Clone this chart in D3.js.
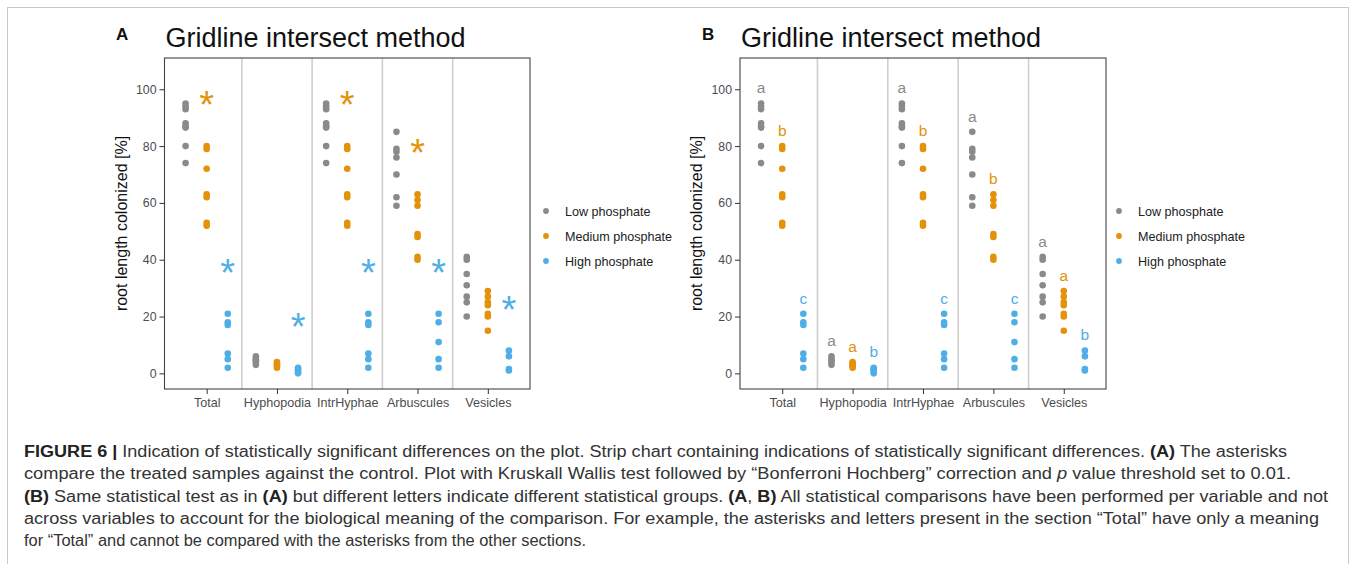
<!DOCTYPE html>
<html>
<head>
<meta charset="utf-8">
<script src="https://cdn.jsdelivr.net/npm/d3@7"></script>
<style>
  html, body { margin: 0; padding: 0; background: #fff; }
  svg { display: block; }
</style>
</head>
<body>
<svg id="chart" width="1355" height="564"></svg>
<script>
// ---------------- DATA ----------------
const categories = ["Total", "Hyphopodia", "IntrHyphae", "Arbuscules", "Vesicles"];
const groups = ["Low phosphate", "Medium phosphate", "High phosphate"];
const yTicks = [0, 20, 40, 60, 80, 100];

// root length colonized [%], one list per category
const lowValues = [
  [95, 94, 93, 88, 87, 86.5, 80, 74],
  [6, 5, 4.5, 4, 3],
  [95, 94, 93, 88, 87, 86.5, 80, 74],
  [85, 79, 78, 76, 70, 62, 59],
  [41, 40, 35, 31, 27, 25, 20]
];
const mediumValues = [
  [80, 79, 72, 63, 62, 53, 52],
  [4, 3.5, 3, 2.5, 2],
  [80, 79, 72, 63, 62, 53, 52],
  [63, 61, 59, 49, 48, 41, 40],
  [29, 27, 25, 24, 21, 20, 15]
];
const highValues = [
  [21, 18, 17, 7, 5, 2],
  [2, 1.5, 1, 0.5, 0],
  [21, 18, 17, 7, 5, 2],
  [21, 18, 11, 5, 2],
  [8, 6, 1.5, 1]
];

// Panel A: significance vs control (asterisks)
const sigLow = [false, false, false, false, false];
const sigMedium = [true, false, true, true, false];
const sigHigh = [true, true, true, true, true];

// Panel B: statistical group letters
const lettersLow = ["a", "a", "a", "a", "a"];
const lettersMedium = ["b", "a", "b", "b", "a"];
const lettersHigh = ["c", "b", "c", "c", "b"];

const groupColors = ["#8a8a8a", "#E3920A", "#4FAEE6"];

const titleText = "Gridline intersect method";
const yTitle = "root length colonized [%]";

const captionLines = [
  [["b", "FIGURE 6 | "], ["n", "Indication of statistically significant differences on the plot. Strip chart containing indications of statistically significant differences. "], ["b", "(A)"], ["n", " The asterisks"]],
  [["n", "compare the treated samples against the control. Plot with Kruskall Wallis test followed by \u201cBonferroni Hochberg\u201d correction and "], ["i", "p"], ["n", " value threshold set to 0.01."]],
  [["b", "(B)"], ["n", " Same statistical test as in "], ["b", "(A)"], ["n", " but different letters indicate different statistical groups. "], ["b", "(A"], ["n", ", "], ["b", "B)"], ["n", " All statistical comparisons have been performed per variable and not"]],
  [["n", "across variables to account for the biological meaning of the comparison. For example, the asterisks and letters present in the section \u201cTotal\u201d have only a meaning"]],
  [["n", "for \u201cTotal\u201d and cannot be compared with the asterisks from the other sections."]]
];
const captionWidths = [1263, 1267, 1304, 1295, 562];

// ---------------- DRAW ----------------
const svg = d3.select("#chart");
const FONT = "'Liberation Sans', Arial, Helvetica, sans-serif";
const seriesValues = [lowValues, mediumValues, highValues];
const seriesSig = [sigLow, sigMedium, sigHigh];
const seriesLetters = [lettersLow, lettersMedium, lettersHigh];

// outer frame
svg.append("rect").attr("x", 7.5).attr("y", 7.5).attr("width", 1341).attr("height", 600)
  .attr("fill", "none").attr("stroke", "#c8c8c8").attr("stroke-width", 1);

const y = d3.scaleLinear().domain([-5.5, 111]).range([389, 58]);

function panel(cfg) {
  const g = svg.append("g");
  const x = d3.scalePoint().domain(categories).range([cfg.left, cfg.right]).padding(0.6);
  const step = x.step();
  const dodge = d3.scalePoint().domain(groups).range([-0.3 * step, 0.3 * step]);

  g.append("rect").attr("x", cfg.left).attr("y", y.range()[1])
    .attr("width", cfg.right - cfg.left).attr("height", y.range()[0] - y.range()[1])
    .attr("fill", "#fff");
  g.selectAll("line.sep").data(categories.slice(1)).join("line")
    .attr("class", "sep")
    .attr("x1", d => x(d) - step / 2).attr("x2", d => x(d) - step / 2)
    .attr("y1", y.range()[1]).attr("y2", y.range()[0])
    .attr("stroke", "#cfcfcf").attr("stroke-width", 1.6);

  groups.forEach((grp, gi) => {
    const pts = [];
    categories.forEach((cat, ci) => seriesValues[gi][ci].forEach(v => pts.push({ cat, v })));
    g.append("g").selectAll("circle").data(pts).join("circle")
      .attr("cx", d => x(d.cat) + dodge(grp))
      .attr("cy", d => y(d.v))
      .attr("r", 3.3)
      .attr("fill", groupColors[gi]);
  });

  groups.forEach((grp, gi) => {
    categories.forEach((cat, ci) => {
      const mx = d3.max(seriesValues[gi][ci]);
      if (cfg.mode === "asterisk") {
        if (!seriesSig[gi][ci]) return;
        g.append("text")
          .attr("x", x(cat) + dodge(grp))
          .attr("y", y(mx + 16) + 0.46 * 38)
          .attr("text-anchor", "middle")
          .attr("font-family", FONT).attr("font-size", 38)
          .attr("fill", groupColors[gi])
          .text("*");
      } else {
        g.append("text")
          .attr("x", x(cat) + dodge(grp))
          .attr("y", y(mx + 5) + 4)
          .attr("text-anchor", "middle")
          .attr("font-family", FONT).attr("font-size", 15.5)
          .attr("fill", groupColors[gi])
          .text(seriesLetters[gi][ci]);
      }
    });
  });

  g.append("rect").attr("x", cfg.left).attr("y", y.range()[1])
    .attr("width", cfg.right - cfg.left).attr("height", y.range()[0] - y.range()[1])
    .attr("fill", "none").attr("stroke", "#444").attr("stroke-width", 1.1);

  const ya = g.append("g").attr("transform", `translate(${cfg.left},0)`)
    .call(d3.axisLeft(y).tickValues(yTicks).tickSize(5).tickPadding(3));
  ya.select(".domain").remove();
  ya.selectAll(".tick line").attr("stroke", "#333");
  ya.selectAll(".tick text").attr("font-family", FONT).attr("font-size", 12.3).attr("fill", "#4d4d4d");

  const xa = g.append("g").attr("transform", `translate(0,${y.range()[0]})`)
    .call(d3.axisBottom(x).tickSize(5).tickPadding(4));
  xa.select(".domain").remove();
  xa.selectAll(".tick line").attr("stroke", "#333");
  xa.selectAll(".tick text").attr("font-family", FONT).attr("font-size", 12.6).attr("fill", "#4d4d4d");

  g.append("text")
    .attr("transform", `translate(${cfg.left - 38},${(y.range()[0] + y.range()[1]) / 2}) rotate(-90)`)
    .attr("text-anchor", "middle")
    .attr("font-family", FONT).attr("font-size", 16).attr("fill", "#111")
    .text(yTitle);

  g.append("text").attr("x", cfg.left + 1).attr("y", 47)
    .attr("font-family", FONT).attr("font-size", 27).attr("fill", "#111")
    .text(titleText);
  g.append("text").attr("x", cfg.labelX).attr("y", 40)
    .attr("font-family", FONT).attr("font-size", 17).attr("font-weight", "bold").attr("fill", "#111")
    .text(cfg.label);

  const lg = g.append("g");
  groups.forEach((grp, gi) => {
    const ly = 211 + gi * 25;
    lg.append("circle").attr("cx", cfg.legendX).attr("cy", ly).attr("r", 2.9).attr("fill", groupColors[gi]);
    lg.append("text").attr("x", cfg.legendX + 19).attr("y", ly + 4.5)
      .attr("font-family", FONT).attr("font-size", 12.6).attr("fill", "#222")
      .text(grp);
  });
}

panel({ left: 164.5, right: 530, mode: "asterisk", label: "A", labelX: 116, legendX: 546 });
panel({ left: 740, right: 1106, mode: "letter", label: "B", labelX: 702, legendX: 1119 });

// caption
const cap = svg.append("g");
captionLines.forEach((line, i) => {
  const t = cap.append("text")
    .attr("x", 24).attr("y", 457 + i * 22.3)
    .attr("font-family", FONT)
    .attr("font-size", 16)
    .attr("fill", "#333")
    .attr("textLength", captionWidths[i])
    .attr("lengthAdjust", "spacingAndGlyphs");
  line.forEach(([style, s]) => {
    const ts = t.append("tspan").text(s);
    if (style === "b") ts.attr("font-weight", "bold").attr("fill", "#222");
    if (style === "i") ts.attr("font-style", "italic");
  });
});
</script>
</body>
</html>
